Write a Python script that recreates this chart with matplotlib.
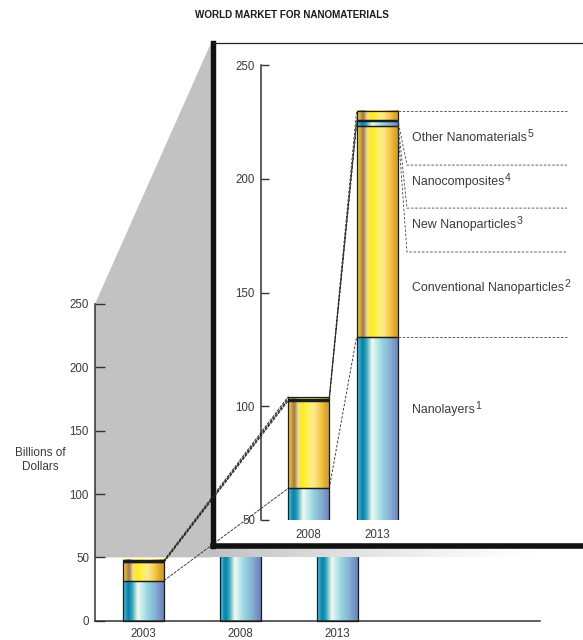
import numpy as np
import matplotlib
matplotlib.use("Agg")
import matplotlib.pyplot as plt
from matplotlib.colors import LinearSegmentedColormap
from matplotlib.patches import Polygon, ConnectionPatch
from matplotlib.transforms import Bbox, TransformedBbox

plt.rcParams['font.family'] = ['Liberation Sans', 'DejaVu Sans']

# ---- data (billions of dollars) ----
years = ['2003', '2008', '2013']
segment_names = ['Nanolayers', 'Conventional Nanoparticles', 'New Nanoparticles',
                 'Nanocomposites', 'Other Nanomaterials']
footnotes = ['1', '2', '3', '4', '5']
nanolayers = [31.7, 63.9, 130.6]
conventional = [14.5, 38.4, 92.8]
new_nanoparticles = [0.4, 0.6, 2.0]
nanocomposites = [0.4, 0.5, 0.6]
other = [0.8, 0.8, 4.0]
outer_ticks = [0, 50, 100, 150, 200, 250]
inset_ticks = [50, 100, 150, 200, 250]
zoom_floor = 50

series = np.array([nanolayers, conventional, new_nanoparticles, nanocomposites, other])
bottoms = np.vstack([np.zeros(3), np.cumsum(series, axis=0)[:-1]])
tops = np.cumsum(series, axis=0)

# ---- layout helpers (pixel positions on a 583x640 canvas) ----
W, H = 583.0, 640.0
def fx(px):
    return px / W
def fy(py):
    return 1.0 - py / H

TEXT = '#3a3a3a'
AXC = '#333333'

blue = LinearSegmentedColormap.from_list('blue', [
    (0.00, '#6cc6da'), (0.05, '#3aa9c6'), (0.13, '#077ea6'), (0.22, '#2aa6c2'),
    (0.36, '#f4fbf0'), (0.48, '#c2e7e9'), (0.62, '#92d2dd'), (0.78, '#89b2d2'),
    (1.00, '#6781bc')])
yellow = LinearSegmentedColormap.from_list('yellow', [
    (0.00, '#eed258'), (0.06, '#d8b24a'), (0.15, '#a3783a'), (0.24, '#efdca0'),
    (0.34, '#ffec1c'), (0.50, '#fff15c'), (0.62, '#ffe894'), (0.78, '#f2c94a'),
    (0.90, '#e1a92a'), (1.00, '#cf9a22')])
seg_cmaps = [blue, yellow, blue, yellow, yellow]
grad = np.linspace(0, 1, 256).reshape(1, -1)


def gradient_stack(ax, xs, width, clip_top=None):
    clip = None
    if clip_top is not None:
        clip = TransformedBbox(Bbox([[-10, -10], [10, clip_top]]), ax.transData)
    for k in range(series.shape[0]):
        vals = series[k, xs]
        bars = ax.bar(np.arange(len(xs)), vals, width, bottom=bottoms[k, xs],
                      facecolor='none', edgecolor='#1c1c1c', linewidth=0.9, zorder=3)
        for rect in bars:
            x0, y0 = rect.get_x(), rect.get_y()
            im = ax.imshow(grad, cmap=seg_cmaps[k], aspect='auto', zorder=2,
                           interpolation='bicubic',
                           extent=(x0, x0 + rect.get_width(), y0, y0 + rect.get_height()))
            if clip is not None:
                im.set_clip_box(clip)
                rect.set_clip_box(clip)


fig = plt.figure(figsize=(5.83, 6.4), dpi=100)

# ---- gray zoom wedge and shadow ----
wedge = Polygon([(fx(95), fy(304)), (fx(211), fy(43)), (fx(211), fy(557.4)),
                 (fx(95), fy(557.4))], closed=True, transform=fig.transFigure,
                facecolor='#c2c2c3', edgecolor='none', zorder=0.5)
fig.add_artist(wedge)
shadow_ax = fig.add_axes([fx(211), fy(557.4), (540 - 211) / W, (557.4 - 546) / H], zorder=0.6)
shade = np.zeros((1, 256, 4))
shade[..., :3] = 0.76
shade[0, :, 3] = np.linspace(1.0, 0.0, 256) ** 1.3
shadow_ax.imshow(shade, aspect='auto', extent=(0, 1, 0, 1), interpolation='bicubic')
shadow_ax.set_axis_off()

# ---- main axes ----
ax = fig.add_axes([fx(95), fy(620.7), (540 - 95) / W, (620.7 - 304) / H], zorder=1)
ax.patch.set_visible(False)
w_out = 0.42
gradient_stack(ax, [0, 1, 2], w_out, clip_top=zoom_floor)
ax.set_xlim(-0.502, 4.086)
ax.set_ylim(0, 250)
ax.set_yticks(outer_ticks)
ax.set_xticks(range(len(years)))
ax.set_xticklabels(years)
for s in ['top', 'right']:
    ax.spines[s].set_visible(False)
for s in ['left', 'bottom']:
    ax.spines[s].set_color(AXC)
    ax.spines[s].set_linewidth(1.1)
ax.tick_params(axis='y', direction='in', length=7.2, width=1.0, color=AXC,
               labelsize=8.3, labelcolor=TEXT, pad=4.3)
ax.tick_params(axis='x', length=0, labelsize=8.3, labelcolor=TEXT, pad=5.5)

fig.text(fx(40), fy(460), 'Billions of\nDollars', ha='center', va='center',
         fontsize=8.5, color=TEXT, linespacing=1.25)
fig.text(fx(292), fy(15), 'WORLD MARKET FOR NANOMATERIALS', ha='center', va='center',
         fontsize=7.1, fontweight='bold', color='#1a1a1a')

# ---- inset frame ----
frame = fig.add_axes([fx(213.4), fy(545.5), (600 - 213.4) / W, (545.5 - 43.3) / H], zorder=2)
frame.set_xticks([])
frame.set_yticks([])
frame.spines['right'].set_visible(False)
frame.spines['left'].set_linewidth(3.9)
frame.spines['bottom'].set_linewidth(4.0)
frame.spines['left'].set_color('#111111')
frame.spines['bottom'].set_color('#111111')
frame.spines['top'].set_linewidth(0.9)
frame.spines['top'].set_color('#222222')
frame.set_facecolor('white')

# ---- inset data axes ----
axi = fig.add_axes([fx(261), fy(520), (583 - 261) / W, (520 - 65) / H], zorder=3)
axi.patch.set_visible(False)
w_in = 0.6
gradient_stack(axi, [1, 2], w_in)
axi.set_xlim(-0.696, 4.004)
axi.set_ylim(50, 250)
axi.set_yticks(inset_ticks)
axi.set_xticks([0, 1])
axi.set_xticklabels(years[1:])
for s in ['top', 'right', 'bottom']:
    axi.spines[s].set_visible(False)
axi.spines['left'].set_color(AXC)
axi.spines['left'].set_linewidth(1.1)
axi.tick_params(axis='y', direction='in', length=5.8, width=1.0, color=AXC,
                labelsize=8.3, labelcolor=TEXT, pad=4.3)
axi.tick_params(axis='x', length=0, labelsize=8.3, labelcolor=TEXT, pad=6.2)

dash = (0, (3.0, 2.0))

# connectors from 2003 (main axes) to 2008 (inset)
for k in [0, 1, 2, 3, 4]:
    con = ConnectionPatch(xyA=(0 + w_out / 2, tops[k, 0]), coordsA=ax.transData,
                          xyB=(0 - w_in / 2, tops[k, 1]), coordsB=axi.transData,
                          color='#222222', linewidth=0.6, linestyle=dash, zorder=5)
    fig.add_artist(con)

# connectors from 2008 to 2013 inside the inset
for k in [0, 1, 2, 3, 4]:
    axi.plot([0 + w_in / 2, 1 - w_in / 2], [tops[k, 1], tops[k, 2]], color='#222222',
             linewidth=0.6, linestyle=dash, zorder=4, clip_on=False)

# leader lines and labels for the 2013 segments
bar_edge = 1 + w_in / 2
elbow_x = 1.435
line_end = 3.77
label_x = 1.508
band_levels = [tops[0, 2], 167.8, 187.1, 206.0, tops[4, 2]]
label_levels = [98.4, 151.8, 179.7, 198.4, 217.8]
for k in range(5):
    src = tops[k, 2]
    if k in (0, 4):
        xs_, ys_ = [bar_edge, line_end], [src, src]
    else:
        xs_, ys_ = [bar_edge, elbow_x, line_end], [src, band_levels[k], band_levels[k]]
    axi.plot(xs_, ys_, color='#444444', linewidth=0.6, linestyle=dash,
             zorder=4, clip_on=False)
for name, note, yl in zip(segment_names, footnotes, label_levels):
    t = axi.text(label_x, yl, name, fontsize=8.9, color=TEXT, ha='left', va='center')
    axi.annotate(note, xy=(1.0, 1.0), xycoords=t, xytext=(0.4, 2.2),
                 textcoords='offset points', ha='left', va='top',
                 fontsize=7.6, color=TEXT)

fig.savefig('out.png', dpi=100)
